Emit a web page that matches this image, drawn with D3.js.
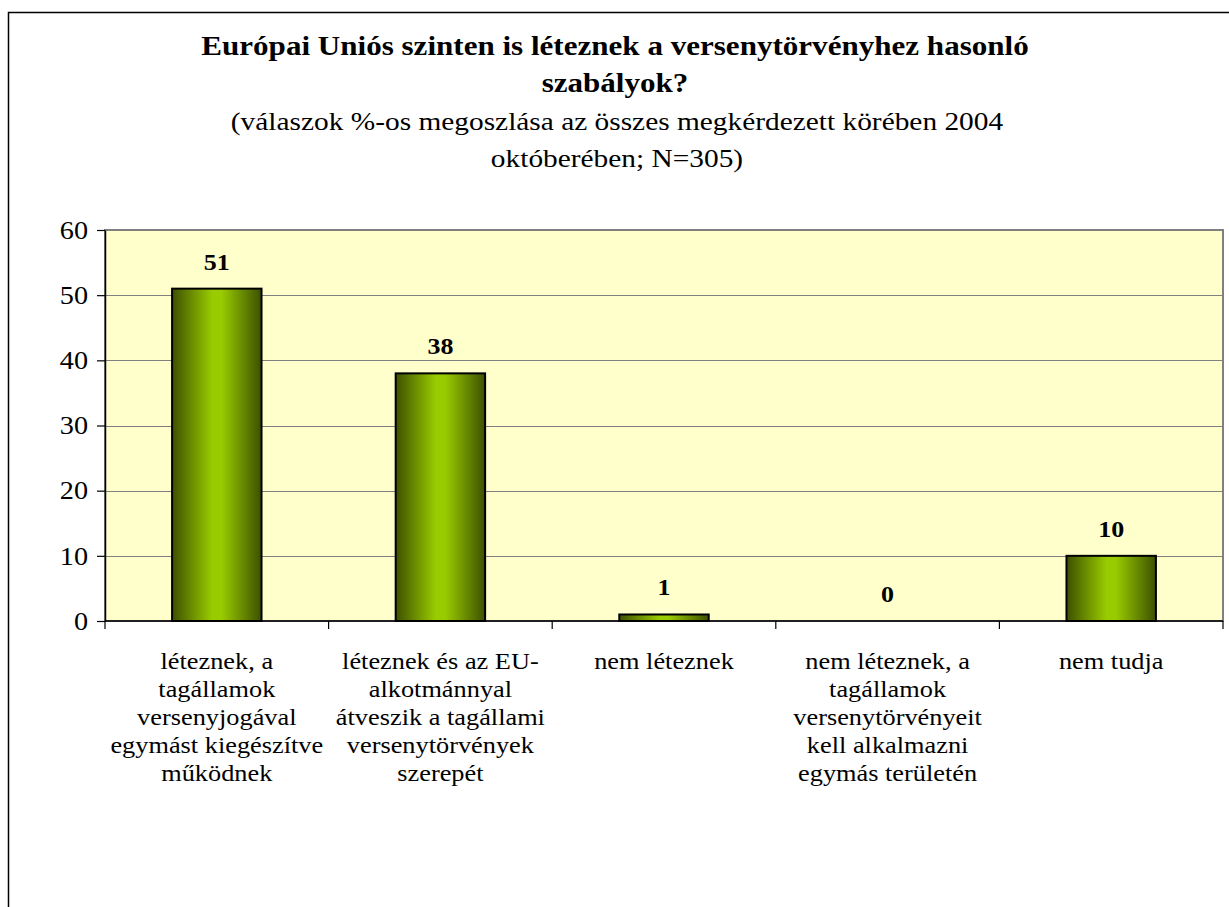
<!DOCTYPE html>
<html>
<head>
<meta charset="utf-8">
<script src="https://cdn.jsdelivr.net/npm/d3@7/dist/d3.min.js"></script>
<style>
  body { margin: 0; background: #fff; }
  svg { display: block; font-family: "Liberation Serif", "Times New Roman", serif; }
</style>
</head>
<body>
<div id="chart"></div>
<script>
// chart data
var titleLines = ["Európai Uniós szinten is léteznek a versenytörvényhez hasonló", "szabályok?"];
var subtitleLines = ["(válaszok %-os megoszlása az összes megkérdezett körében 2004", "októberében; N=305)"];
var categories = [
  ["léteznek, a", "tagállamok", "versenyjogával", "egymást kiegészítve", "működnek"],
  ["léteznek és az EU-", "alkotmánnyal", "átveszik a tagállami", "versenytörvények", "szerepét"],
  ["nem léteznek"],
  ["nem léteznek, a", "tagállamok", "versenytörvényeit", "kell alkalmazni", "egymás területén"],
  ["nem tudja"]
];
var values = [51, 38, 1, 0, 10];
var yTicks = [0, 10, 20, 30, 40, 50, 60];

var width = 1229, height = 907;
var plot = { left: 105, right: 1223, top: 230, bottom: 621 };
var sx = 1.13; // the original text is a little wider than it is tall

var svg = d3.select('#chart').append('svg')
    .attr('width', width)
    .attr('height', height);

var defs = svg.append('defs');
var grad = defs.append('linearGradient')
    .attr('id', 'barGrad')
    .attr('x1', '0%').attr('x2', '100%')
    .attr('y1', '0%').attr('y2', '0%');
grad.append('stop').attr('offset', '0%').attr('stop-color', '#3d5000');
grad.append('stop').attr('offset', '45%').attr('stop-color', '#99cc00');
grad.append('stop').attr('offset', '55%').attr('stop-color', '#99cc00');
grad.append('stop').attr('offset', '100%').attr('stop-color', '#3d5000');

function stretched(parent, x, y, str, size, opts) {
  opts = opts || {};
  return parent.append('text')
      .attr('transform', 'translate(' + x + ',' + y + ') scale(' + sx + ',1)')
      .attr('text-anchor', opts.anchor || 'middle')
      .attr('font-family', '"Liberation Serif", "Times New Roman", serif')
      .attr('font-weight', opts.bold ? 'bold' : 'normal')
      .attr('font-size', size)
      .attr('fill', '#000')
      .attr('dy', opts.dy || 0)
      .text(str);
}

// outer frame
svg.append('rect')
    .attr('x', 8.5).attr('y', 12.5)
    .attr('width', width + 10).attr('height', height + 10)
    .attr('fill', '#fff')
    .attr('stroke', '#000')
    .attr('stroke-width', 1.5);

// titles
titleLines.forEach(function(t, i) {
  stretched(svg, 615, 55 + i * 37, t, 27.5, { bold: true });
});
subtitleLines.forEach(function(t, i) {
  stretched(svg, 617, 130 + i * 37, t, 26);
});

var x = d3.scaleBand()
    .domain(d3.range(categories.length))
    .range([plot.left, plot.right])
    .paddingInner(0)
    .paddingOuter(0);

var y = d3.scaleLinear()
    .domain([0, 60])
    .range([plot.bottom, plot.top]);

// plot area
svg.append('rect')
    .attr('x', plot.left).attr('y', plot.top)
    .attr('width', plot.right - plot.left)
    .attr('height', plot.bottom - plot.top)
    .attr('fill', '#ffffcc')
    .attr('stroke', '#808080')
    .attr('stroke-width', 2);

// gridlines
svg.append('g')
  .selectAll('line')
  .data(yTicks.filter(function(d) { return d > 0 && d < 60; }))
  .enter().append('line')
    .attr('x1', plot.left).attr('x2', plot.right)
    .attr('y1', function(d) { return Math.round(y(d)) + 0.5; })
    .attr('y2', function(d) { return Math.round(y(d)) + 0.5; })
    .attr('stroke', '#808080')
    .attr('stroke-width', 1.2);

// bars
var bw = x.bandwidth() * 0.4;
svg.append('g')
  .selectAll('rect')
  .data(values)
  .enter().append('rect')
    .attr('x', function(d, i) { return x(i) + (x.bandwidth() - bw) / 2; })
    .attr('y', function(d) { return y(d); })
    .attr('width', bw)
    .attr('height', function(d) { return y(0) - y(d); })
    .attr('fill', 'url(#barGrad)')
    .attr('stroke', function(d) { return d > 0 ? '#000' : 'none'; })
    .attr('stroke-width', 2);

// value labels
var valG = svg.append('g');
values.forEach(function(d, i) {
  stretched(valG, x(i) + x.bandwidth() / 2, y(d) - 19, d, 23, { bold: true });
});

// y axis
var yAxis = svg.append('g')
    .attr('transform', 'translate(' + plot.left + ',0)')
    .call(d3.axisLeft(y).tickValues(yTicks).tickSize(8).tickSizeOuter(0));
yAxis.select('.domain').attr('stroke', '#000').attr('stroke-width', 1.5);
yAxis.selectAll('.tick line').attr('stroke', '#000').attr('stroke-width', 1.2);
yAxis.selectAll('.tick text').remove();
yAxis.selectAll('.tick').each(function(d) {
  stretched(d3.select(this), -17, 0, d, 25, { anchor: 'end', dy: '0.33em' });
});

// x axis baseline and category ticks
svg.append('line')
    .attr('x1', plot.left).attr('x2', plot.right)
    .attr('y1', plot.bottom).attr('y2', plot.bottom)
    .attr('stroke', '#000').attr('stroke-width', 1.5);
svg.append('g')
  .selectAll('line')
  .data(d3.range(categories.length + 1))
  .enter().append('line')
    .attr('x1', function(i) { return plot.left + i * x.bandwidth(); })
    .attr('x2', function(i) { return plot.left + i * x.bandwidth(); })
    .attr('y1', plot.bottom).attr('y2', plot.bottom + 8)
    .attr('stroke', '#000').attr('stroke-width', 1.2);

// category labels
var catG = svg.append('g');
categories.forEach(function(lines, i) {
  lines.forEach(function(l, j) {
    stretched(catG, x(i) + x.bandwidth() / 2, 669 + j * 28, l, 23.3);
  });
});
</script>
</body>
</html>
